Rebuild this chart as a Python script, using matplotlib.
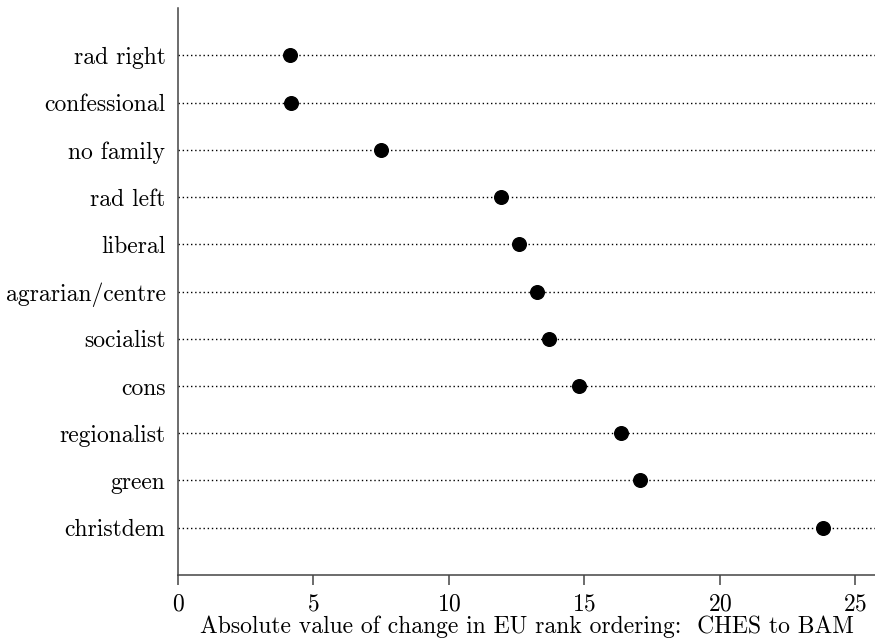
import matplotlib
matplotlib.use("Agg")
import matplotlib.pyplot as plt

# party families and absolute change in EU rank ordering
families = ["rad right", "confessional", "no family", "rad left", "liberal",
            "agrarian/centre", "socialist", "cons", "regionalist", "green",
            "christdem"]
change = [4.13, 4.17, 7.49, 11.92, 12.58, 13.25, 13.69, 14.80, 16.35, 17.05, 23.80]
xticks = [0, 5, 10, 15, 20, 25]

plt.rcParams["font.family"] = ["cmr10", "DejaVu Serif"]
plt.rcParams["mathtext.fontset"] = "cm"
plt.rcParams["axes.formatter.use_mathtext"] = True

fig = plt.figure(figsize=(8.75, 6.42), dpi=100)
ax = fig.add_axes([0.2034, 0.1044, 0.7966, 0.8831])

n = len(families)
ypos = list(range(n, 0, -1))

for y in ypos:
    ax.axhline(y, color="black", linestyle=(0, (1, 2)), linewidth=1.0, zorder=1)
ax.plot(change, ypos, "o", color="black", markersize=9.8, zorder=3)

ax.set_xlim(0, 25.72)
ax.set_ylim(0, n + 1)
ax.set_xticks(xticks)
ax.set_yticks(ypos)
ax.set_yticklabels(families)
ax.tick_params(axis="y", length=0, pad=9, labelsize=17)
ax.tick_params(axis="x", direction="out", length=7, width=1.1, color="#444444",
               labelsize=17, pad=6.5)

for side in ["top", "right"]:
    ax.spines[side].set_visible(False)
for side in ["left", "bottom"]:
    ax.spines[side].set_linewidth(1.1)
    ax.spines[side].set_color("#444444")

ax.set_xlabel("Absolute value of change in EU rank ordering:  CHES to BAM",
              fontsize=17, labelpad=0)

fig.savefig("out.png", dpi=100)
